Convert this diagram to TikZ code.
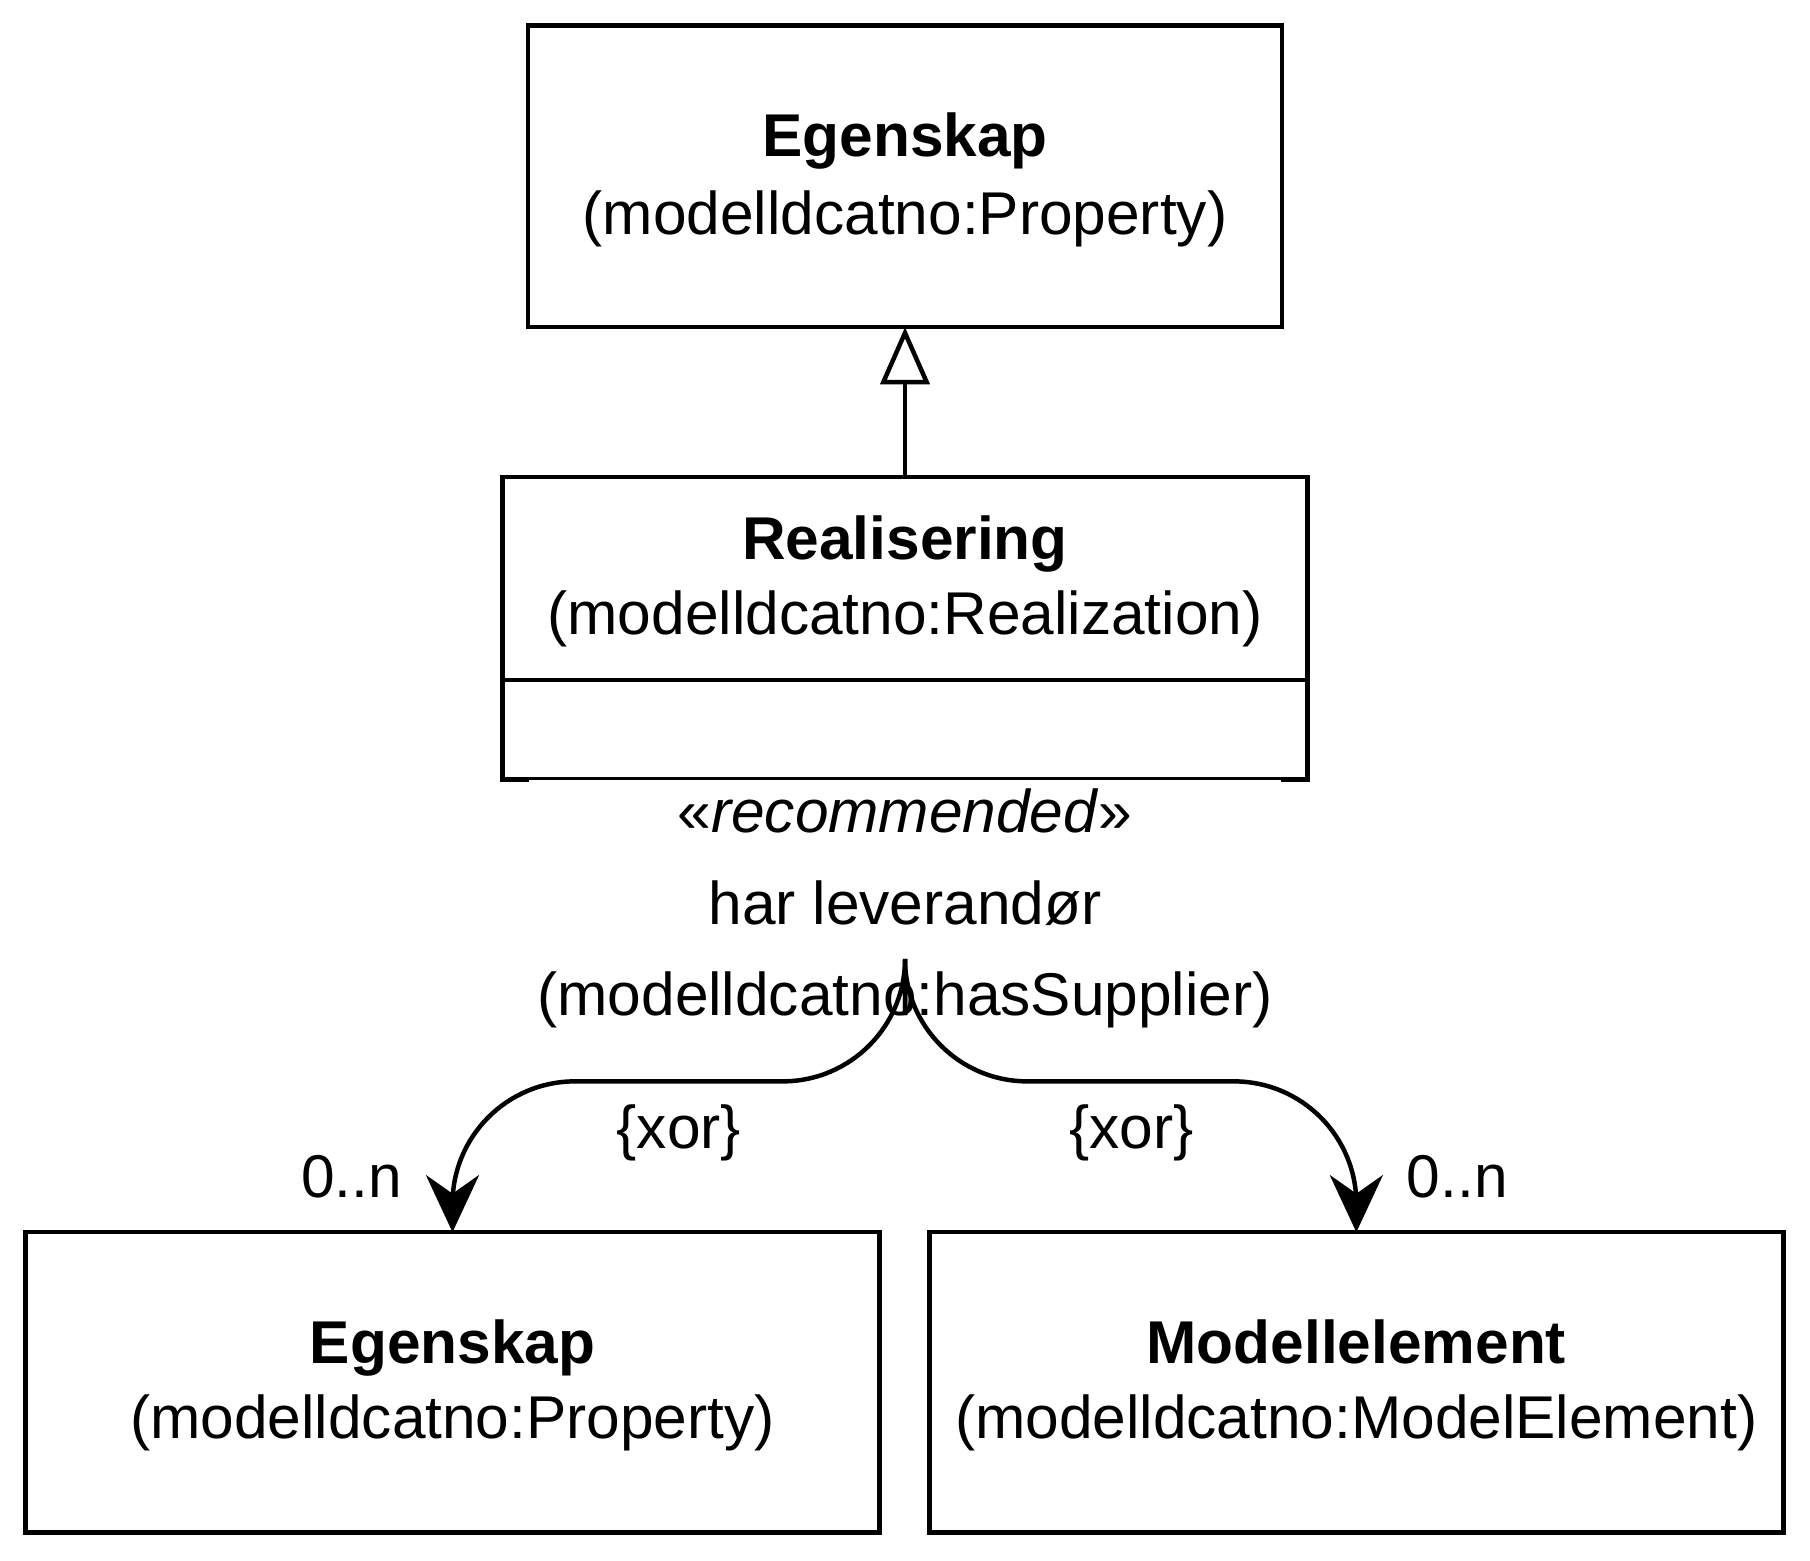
\documentclass[tikz,border=0pt]{standalone}
\usepackage{fontspec}
\setmainfont{Liberation Sans}
\usetikzlibrary{arrows.meta}
\begin{document}
\begin{tikzpicture}[x=0.01cm,y=-0.01cm,line width=1.1pt,font=\fontsize{14.8}{18}\selectfont,
    class box/.style={draw,inner sep=0pt},
    txt/.style={inner sep=0pt,anchor=base}]
    \useasboundingbox (0,0) rectangle (1560,1345);
    % classes
    \draw[class box] (455,22) rectangle (1105,282);
    \coordinate (top) at (780,282);
    \node[txt] (n1) at (780,135) {\textbf{Egenskap}};
    \node[txt] (n1b) at (780,202) {(modelldcatno:Property)};

    \draw[class box] (433,411) rectangle (1127,672);
    \draw (433,586) -- (1127,586);
    \coordinate (mid top) at (780,411);
    \coordinate (mid bot) at (780,672);
    \node[txt] (n2) at (780,482) {\textbf{Realisering}};
    \node[txt] (n2b) at (780,547) {(modelldcatno:Realization)};

    \draw[class box] (22,1062) rectangle (758,1321);
    \coordinate (left) at (390,1062);
    \node[txt] (n3) at (390,1175) {\textbf{Egenskap}};
    \node[txt] (n3b) at (390,1240) {(modelldcatno:Property)};

    \draw[class box] (801,1062) rectangle (1537,1321);
    \coordinate (right) at (1169,1062);
    \node[txt] (n4) at (1169,1175) {\textbf{Modellelement}};
    \node[txt] (n4b) at (1169,1240) {(modelldcatno:ModelElement)};

    % generalisation
    \draw[-{Triangle[open,length=14pt,width=12pt]}] (mid top) -- (top);

    % association
    \coordinate (split) at (780,875);
    \draw (mid bot) -- (split);
    \node[fill=white,align=center,inner sep=2pt,font=\fontsize{14.8}{22.5}\selectfont] (assoc) at (780,783)
        {«\textit{recommended}»\\har leverandør\\(modelldcatno:hasSupplier)};
    \draw[-{Stealth[length=14pt,width=13pt]},rounded corners=30] (split) -- (780,932) -- (390,932) -- (left);
    \draw[-{Stealth[length=14pt,width=13pt]},rounded corners=30] (split) -- (780,932) -- (1169,932) -- (right);

    \node[txt] (x1) at (585,990) {\{xor\}};
    \node[txt] (x2) at (975,990) {\{xor\}};
    \node[txt] (m1) at (303,1032) {0..n};
    \node[txt] (m2) at (1256,1032) {0..n};
\end{tikzpicture}
\end{document}
